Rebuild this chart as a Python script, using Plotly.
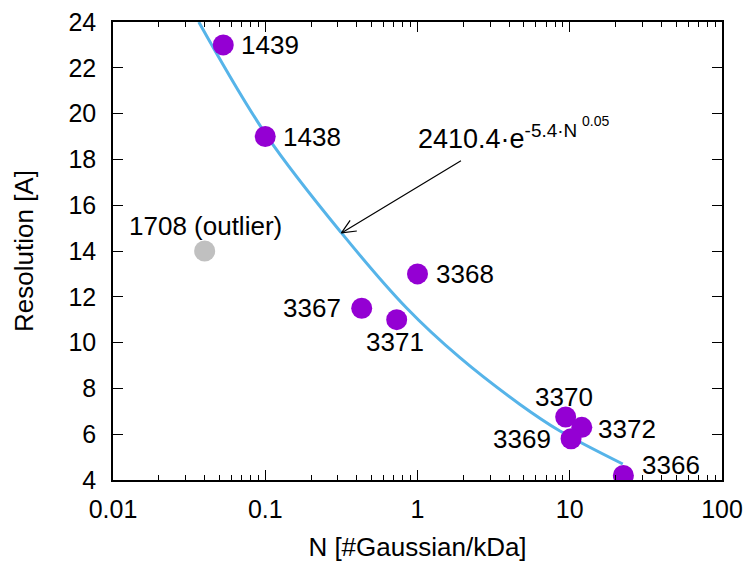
import numpy as np
import plotly.graph_objects as go

# Data points
ids = ["1439", "1438", "3367", "3371", "3368", "3370", "3372", "3369", "3366"]
n_vals = [0.053, 0.10, 0.43, 0.73, 1.0, 9.4, 12.0, 10.2, 22.5]
res_vals = [23.0, 19.0, 11.5, 11.0, 13.0, 6.75, 6.3, 5.8, 4.2]

outlier_id = "1708 (outlier)"
outlier_n = [0.04]
outlier_res = [14.0]

# Fitted curve
fit_n = [0.0366, 0.1024, 0.3166, 0.845, 1.892, 4.69, 8.57, 22.3]
fit_res = [24.0, 19.03, 14.79, 11.52, 9.35, 7.31, 6.15, 4.70]

x_ticks = [0.01, 0.1, 1, 10, 100]
x_tick_labels = ["0.01", "0.1", "1", "10", "100"]
y_ticks = [4, 6, 8, 10, 12, 14, 16, 18, 20, 22, 24]

purple = "#9400D3"
gray = "#C0C0C0"
blue = "#56B4E9"
FONT = "Liberation Sans, Arial, Helvetica, sans-serif"
LBL = 26

fig = go.Figure()
fig.add_trace(go.Scatter(x=fit_n, y=fit_res, mode="lines",
                         line=dict(color=blue, width=3, shape="spline", smoothing=1.0),
                         showlegend=False, hoverinfo="skip"))
fig.add_trace(go.Scatter(x=outlier_n, y=outlier_res, mode="markers",
                         marker=dict(color=gray, size=21), showlegend=False))
fig.add_trace(go.Scatter(x=n_vals, y=res_vals, mode="markers",
                         marker=dict(color=purple, size=21), showlegend=False))

# label placement: (xanchor, xshift, yshift)
placement = {
    "1439": ("left", 16, 0),
    "1438": ("left", 16, 0),
    "3367": ("right", -19, 0),
    "3371": ("center", -2, -22),
    "3368": ("left", 16, 0),
    "3370": ("center", -2, 20),
    "3372": ("left", 14, -2),
    "3369": ("right", -18, 0),
    "3366": ("left", 17, 10),
}
for name, xv, yv in zip(ids, n_vals, res_vals):
    xa, xs, ys = placement[name]
    fig.add_annotation(x=np.log10(xv), y=yv, text=name, showarrow=False, xanchor=xa, yanchor="middle",
                       xshift=xs, yshift=ys, font=dict(size=LBL, color="black", family=FONT))
fig.add_annotation(x=np.log10(outlier_n[0]), y=outlier_res[0], text=outlier_id, showarrow=False,
                   xanchor="center", yanchor="middle", yshift=25, xshift=1,
                   font=dict(size=LBL, color="black", family=FONT))

# Formula label with arrow (line + open V head)
head_x, head_y = 0.3166, 14.79
tail = np.array([121.0, -73.0])
fig.add_annotation(x=np.log10(head_x), y=head_y, ax=tail[0], ay=tail[1], axref="pixel", ayref="pixel",
                   showarrow=True, arrowhead=0, arrowwidth=1.2, arrowcolor="black", text="")
u = tail / np.linalg.norm(tail)
for ang in (np.radians(24), np.radians(-24)):
    rot = np.array([u[0] * np.cos(ang) - u[1] * np.sin(ang), u[0] * np.sin(ang) + u[1] * np.cos(ang)]) * 17
    fig.add_annotation(x=np.log10(head_x), y=head_y, ax=rot[0], ay=rot[1], axref="pixel", ayref="pixel",
                       showarrow=True, arrowhead=0, arrowwidth=1.2, arrowcolor="black", text="")

fig.add_annotation(xref="paper", yref="paper", x=(416 - 113) / 609, y=(480 - 137) / 458,
                   text="2410.4·e<sup>-5.4·N</sup>", showarrow=False, xanchor="left", yanchor="middle",
                   font=dict(size=27, color="black", family=FONT))
fig.add_annotation(xref="paper", yref="paper", x=(580 - 113) / 609, y=(480 - 121) / 458,
                   text="0.05", showarrow=False, xanchor="left", yanchor="middle",
                   font=dict(size=14, color="black", family=FONT))

fig.update_layout(
    width=749, height=565,
    margin=dict(l=113, r=27, t=22, b=85),
    plot_bgcolor="white", paper_bgcolor="white",
    font=dict(family=FONT, size=25, color="black"),
)
fig.update_xaxes(type="log", range=[-2, 2], tickvals=x_ticks, ticktext=x_tick_labels,
                 ticks="inside", ticklen=10, tickwidth=1.2, tickcolor="black",
                 showline=True, linecolor="black", linewidth=1.5, mirror="ticks",
                 showgrid=False, zeroline=False, automargin=False,
                 minor=dict(ticks="inside", ticklen=5, tickwidth=1.2, tickcolor="black", dtick="D1", showgrid=False),
                 tickfont=dict(size=25), ticklabelstandoff=6,
                 title=dict(text="N [#Gaussian/kDa]", font=dict(size=26), standoff=16))
fig.update_yaxes(range=[4, 24], tickvals=y_ticks,
                 ticks="inside", ticklen=10, tickwidth=1.2, tickcolor="black",
                 showline=True, linecolor="black", linewidth=1.5, mirror="ticks",
                 showgrid=False, zeroline=False, automargin=False, tickfont=dict(size=25), ticklabelstandoff=10,
                 title=dict(text="Resolution [A]", font=dict(size=26), standoff=27))

fig.write_html("out.html", config={"displayModeBar": False},
               post_script="document.body.style.margin='0';document.body.style.padding='0';")
